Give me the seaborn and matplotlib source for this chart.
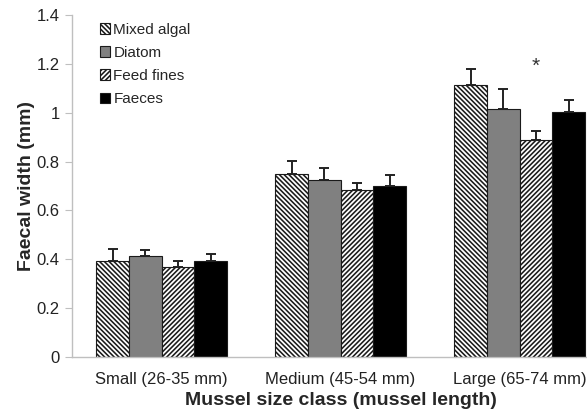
import numpy as np
import pandas as pd
import seaborn as sns
import matplotlib.pyplot as plt

sns.set_style('white')
plt.rcParams['font.family'] = ['Liberation Sans', 'DejaVu Sans']
plt.rcParams['hatch.linewidth'] = 1.15

# data
size_classes = ['Small (26-35 mm)', 'Medium (45-54 mm)', 'Large (65-74 mm)']
foods = ['Mixed algal', 'Diatom', 'Feed fines', 'Faeces']
mixed_algal = [0.393, 0.750, 1.112]
diatom = [0.413, 0.725, 1.017]
feed_fines = [0.367, 0.682, 0.890]
faeces = [0.393, 0.702, 1.002]
mixed_algal_se = [0.049, 0.053, 0.069]
diatom_se = [0.026, 0.048, 0.082]
feed_fines_se = [0.024, 0.031, 0.035]
faeces_se = [0.029, 0.042, 0.049]
star_y = 1.19

means = [mixed_algal, diatom, feed_fines, faeces]
errs = [mixed_algal_se, diatom_se, feed_fines_se, faeces_se]
df = pd.DataFrame({
    'size': size_classes * len(foods),
    'food': np.repeat(foods, len(size_classes)),
    'width': np.concatenate(means),
})

fig = plt.figure(figsize=(5.87, 4.12), dpi=100)
ax = fig.add_axes([0.1227, 0.1335, 0.9148, 0.830])

sns.barplot(data=df, x='size', y='width', hue='food', order=size_classes,
            hue_order=foods, palette=['white', '#808080', 'white', 'black'],
            width=0.73, errorbar=None, legend=False, ax=ax)

bars = list(ax.containers)
hatches = ['\\' * 7, '', '/' * 7, '']
for cont, h, e in zip(bars, hatches, errs):
    for p in cont.patches:
        p.set_hatch(h)
        p.set_edgecolor('#1a1a1a')
        p.set_linewidth(0.8)
    xs = [p.get_x() + p.get_width() / 2 for p in cont.patches]
    ys = [p.get_height() for p in cont.patches]
    ax.errorbar(xs, ys, yerr=[np.zeros(len(e)), e], fmt='none', ecolor='#222222',
                elinewidth=1.4, capsize=3.5, capthick=1.4, zorder=3)

star_bar = bars[2].patches[2]
ax.text(star_bar.get_x() + star_bar.get_width() / 2, star_y, '*',
        ha='center', va='center', fontsize=15, color='#333333')

ax.set_xlim(-0.5, 2.5)
ax.set_ylim(0, 1.4)
ax.set_yticks(np.arange(0, 1.41, 0.2))
ax.set_yticklabels(['{:g}'.format(round(v, 1)) for v in np.arange(0, 1.41, 0.2)])
ax.tick_params(axis='y', left=True, length=5, color='#bfbfbf', labelsize=12, pad=4,
               labelcolor='#222222')
ax.tick_params(axis='x', bottom=False, labelsize=12, pad=7, labelcolor='#222222')

sns.despine(ax=ax)
for s in ['left', 'bottom']:
    ax.spines[s].set_color('#bfbfbf')
    ax.spines[s].set_linewidth(1.0)

ax.set_xlabel('Mussel size class (mussel length)', fontsize=14, fontweight='bold',
              labelpad=4)
ax.set_ylabel('Faecal width (mm)', fontsize=14, fontweight='bold', labelpad=1)

handles = [c.patches[0] for c in bars]
ax.legend(handles, foods, loc='upper left', bbox_to_anchor=(0.04, 0.995),
          frameon=False, fontsize=11, handlelength=0.7, handleheight=0.7,
          handletextpad=0.2, labelspacing=0.6, borderaxespad=0)

fig.savefig('out.png', dpi=100)
